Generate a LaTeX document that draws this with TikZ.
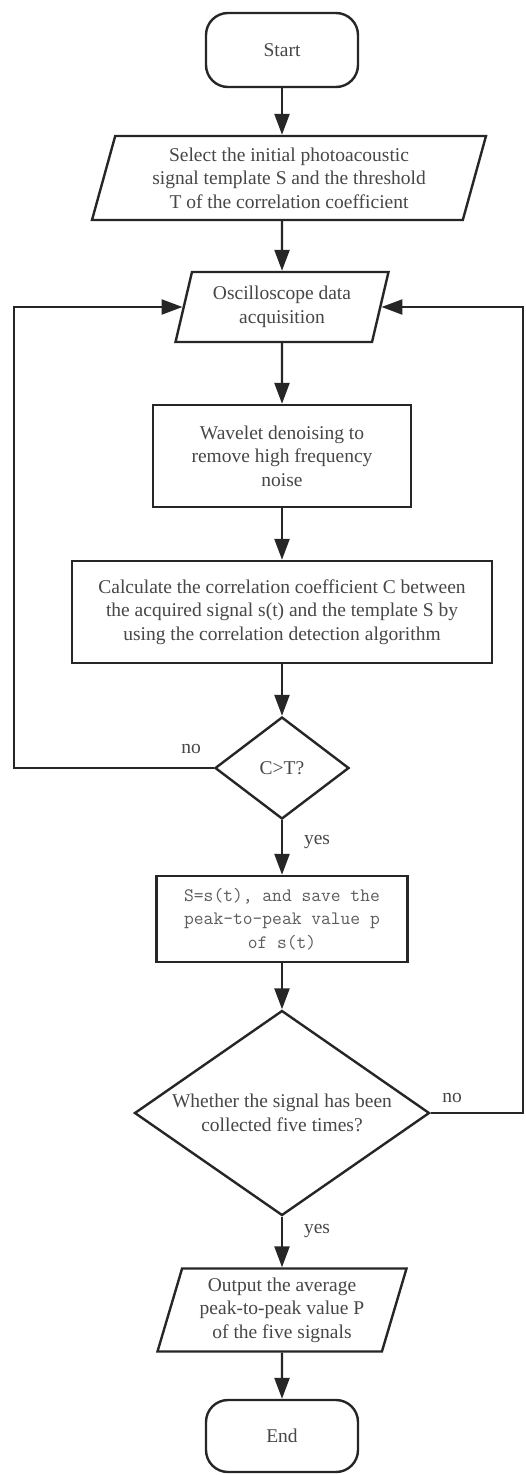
\documentclass[tikz,border=0pt]{standalone}
\usepackage{fontspec}
\setmainfont{Liberation Serif}
\usepackage{tikz}
\usetikzlibrary{arrows.meta,shapes.geometric}
\definecolor{ink}{HTML}{262626}
\newcommand{\arh}{-{Triangle[length=21pt,width=15pt]}}

\begin{document}
\begin{tikzpicture}[x=1pt,y=-1pt,line width=2.4pt,draw=ink,
  every node/.style={font=\fontsize{19.5}{23.5}\selectfont,text=ink!85,align=center},
  term/.style={draw,rectangle,rounded corners=22pt,minimum width=152pt,minimum height=74pt},
  io/.style={draw,trapezium,trapezium left angle=71,trapezium right angle=109,trapezium stretches body,inner xsep=0pt},
  proc/.style={draw,rectangle,inner sep=0pt},
  dec/.style={draw,diamond,inner sep=0pt}]
\fill[white] (0,0) rectangle (526,1475);
\useasboundingbox (0,0) rectangle (526,1475);
%main column
\node[term] (start) at (282,50) {Start};
\node[io,minimum width=394pt,minimum height=84pt] (sel) at (289,178)
  {Select the initial photoacoustic\\signal template S and the threshold\\T of the correlation coefficient};
\node[io,minimum width=213pt,minimum height=70pt] (osc) at (282,307) {Oscilloscope data\\acquisition};
\node[proc,minimum width=258pt,minimum height=102pt] (wav) at (282,456) {Wavelet denoising to\\remove high frequency\\noise};
\node[proc,minimum width=420pt,minimum height=102pt] (calc) at (282,612)
  {Calculate the correlation coefficient C between\\the acquired signal s(t) and the template S by\\using the correlation detection algorithm};
\node[dec,minimum width=134pt,minimum height=102pt] (ct) at (282,768) {C>T?};
\node[proc,minimum width=251pt,minimum height=86pt,text=ink!75,font=\fontsize{19}{23.5}\selectfont\ttfamily] (save) at (282,919)
  {S=s(t), and save the\\peak-to-peak value p\\of s(t)};
\node[dec,aspect=1.44,inner sep=-6pt,minimum width=295pt,minimum height=205pt] (five) at (282,1113)
  {Whether the signal has been\\collected five times?};
\node[io,minimum width=249pt,minimum height=83pt] (out) at (282,1310)
  {Output the average\\peak-to-peak value P\\of the five signals};
\node[term,minimum height=72pt] (end) at (282,1436) {End};
%loop back
\coordinate (lft) at (14,768);
\coordinate (rgt) at (523,1113);
\node (no1) at (191,749) {no};
\node (yes1) at (317,842) {yes};
\node (no2) at (452,1098) {no};
\node (yes2) at (317,1231) {yes};
\draw[\arh] (start) -- (start.south |- sel.north);
\draw[\arh] (sel.south -| osc.north) -- (osc);
\draw[\arh] (osc) -- (wav);
\draw[\arh] (wav) -- (calc);
\draw[\arh] (calc) -- (ct);
\draw[\arh] (ct) -- (save);
\draw[\arh] (save) -- (five);
\draw[\arh] (five) -- (out);
\draw[\arh] (out) -- (end);
\draw[\arh] (ct.west) -- (lft) |- (osc);
\draw[\arh] (five.east) -- (rgt) |- (osc);
\end{tikzpicture}
\end{document}
